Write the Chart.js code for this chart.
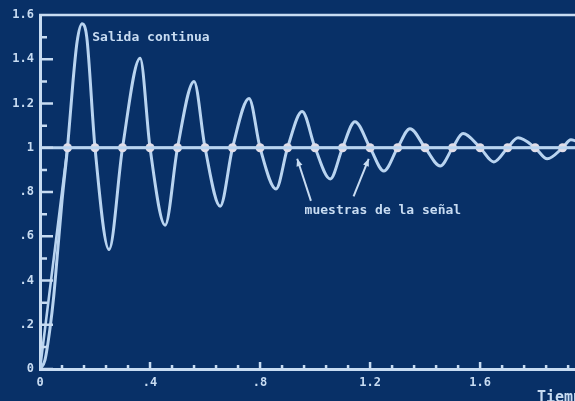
<!DOCTYPE html>
<html>
<head>
<meta charset="utf-8">
<script src="https://cdn.jsdelivr.net/npm/chart.js@4/dist/chart.umd.min.js"></script>
<style>
  html, body { margin: 0; padding: 0; background: #083067; overflow: hidden; }
  #wrap { width: 575px; height: 401px; position: relative; }
</style>
</head>
<body>
<div id="wrap"><canvas id="plot"></canvas></div>
<script>
// continuous output (crossings, peaks, troughs)
const curveT = [0, 0.018, 0.036, 0.05, 0.062, 0.08, 0.1, 0.12, 0.135, 0.153, 0.17, 0.2,
  0.251, 0.3, 0.364, 0.4, 0.455, 0.5, 0.56, 0.6, 0.655, 0.7, 0.76, 0.8, 0.858, 0.9,
  0.953, 1.0, 1.055, 1.1, 1.145, 1.2, 1.25, 1.3, 1.345, 1.4, 1.455, 1.5, 1.538, 1.6,
  1.65, 1.7, 1.738, 1.8, 1.844, 1.9, 1.93, 1.98];
const curveY = [0, 0.04, 0.18, 0.33, 0.5, 0.76, 1, 1.3, 1.48, 1.56, 1.5, 1,
  0.54, 1, 1.405, 1, 0.65, 1, 1.3, 1, 0.736, 1, 1.223, 1, 0.814, 1,
  1.164, 1, 0.859, 1, 1.118, 1, 0.895, 1, 1.086, 1, 0.918, 1, 1.064, 1,
  0.936, 1, 1.045, 1, 0.95, 1, 1.036, 1.01];

// samples of the signal
const sampleT = [0, 0.1, 0.2, 0.3, 0.4, 0.5, 0.6, 0.7, 0.8, 0.9, 1.0, 1.1, 1.2, 1.3,
  1.4, 1.5, 1.6, 1.7, 1.8, 1.9, 2.0];
const sampleY = [0, 1, 1, 1, 1, 1, 1, 1, 1, 1, 1, 1, 1, 1, 1, 1, 1, 1, 1, 1, 1];

// steady-state line
const refT = [0, 2.0];
const refY = [1, 1];

const xTickValues = [0, 0.4, 0.8, 1.2, 1.6];
const xTickLabels = ['0', '.4', '.8', '1.2', '1.6'];
const yTickValues = [0, 0.2, 0.4, 0.6, 0.8, 1, 1.2, 1.4, 1.6];
const yTickLabels = ['0', '.2', '.4', '.6', '.8', '1', '1.2', '1.4', '1.6'];

const curveLabel = 'Salida continua';
const sampleLabel = 'muestras de la señal';
const xTitle = 'Tiempo';

const ink = 'rgb(200, 220, 242)';
const lineCol = 'rgb(185, 212, 240)';
const dotCol = 'rgb(226, 222, 232)';
const monoBold = 'bold 13px "DejaVu Sans Mono", monospace';

const pts = (xs, ys) => xs.map((x, i) => ({ x: x, y: ys[i] }));

function arrow(ctx, x1, y1, x2, y2) {
  const a = Math.atan2(y2 - y1, x2 - x1);
  ctx.beginPath();
  ctx.moveTo(x1, y1);
  ctx.lineTo(x2, y2);
  ctx.stroke();
  ctx.beginPath();
  ctx.moveTo(x2, y2);
  ctx.lineTo(x2 - 8 * Math.cos(a - 0.4), y2 - 8 * Math.sin(a - 0.4));
  ctx.lineTo(x2 - 8 * Math.cos(a + 0.4), y2 - 8 * Math.sin(a + 0.4));
  ctx.closePath();
  ctx.fill();
}

// ticks inside the axes, top frame, notes and arrows
const decor = {
  id: 'decor',
  afterDraw(chart) {
    const ctx = chart.ctx;
    const xs = chart.scales.x, ys = chart.scales.y;
    const area = chart.chartArea;
    ctx.save();
    ctx.strokeStyle = ink;
    ctx.fillStyle = ink;
    ctx.lineWidth = 2.5;
    ctx.beginPath();
    for (let v = 0; v <= 1.61; v += 0.1) {
      const py = ys.getPixelForValue(v);
      const major = Math.round(v * 10) % 2 === 0;
      ctx.moveTo(area.left, py);
      ctx.lineTo(area.left + (major ? 13 : 7), py);
    }
    for (let v = 0.08; v <= 1.95; v += 0.08) {
      const px = xs.getPixelForValue(v);
      const major = Math.round(v / 0.08) % 5 === 0;
      ctx.moveTo(px, area.bottom);
      ctx.lineTo(px, area.bottom - (major ? 7 : 4));
    }
    ctx.moveTo(area.left - 1, area.top);
    ctx.lineTo(area.right, area.top);
    ctx.stroke();

    ctx.font = monoBold;
    ctx.textBaseline = 'middle';
    ctx.textAlign = 'left';
    ctx.fillText(curveLabel, xs.getPixelForValue(0.19), ys.getPixelForValue(1.5));
    ctx.fillText(sampleLabel, xs.getPixelForValue(0.962), ys.getPixelForValue(0.715));
    ctx.font = 'bold 15px "DejaVu Sans Mono", monospace';
    ctx.textBaseline = 'top';
    ctx.fillText(xTitle, 537, 391);

    ctx.lineWidth = 2;
    arrow(ctx, xs.getPixelForValue(0.985), ys.getPixelForValue(0.76),
      xs.getPixelForValue(0.935), ys.getPixelForValue(0.95));
    arrow(ctx, xs.getPixelForValue(1.14), ys.getPixelForValue(0.78),
      xs.getPixelForValue(1.195), ys.getPixelForValue(0.95));
    ctx.restore();
  }
};

new Chart(document.getElementById('plot'), {
  type: 'line',
  data: {
    datasets: [
      {
        data: pts(refT, refY),
        borderColor: lineCol,
        borderWidth: 3,
        pointRadius: 0
      },
      {
        data: pts(sampleT, sampleY),
        borderColor: lineCol,
        borderWidth: 2.6,
        pointRadius: c => (c.dataIndex === 0 || c.raw.x > 1.95) ? 0 : 4.5,
        pointBackgroundColor: dotCol,
        pointBorderWidth: 0
      },
      {
        data: pts(curveT, curveY),
        borderColor: lineCol,
        borderWidth: 3,
        pointRadius: 0,
        cubicInterpolationMode: 'monotone'
      }
    ]
  },
  options: {
    responsive: true,
    maintainAspectRatio: false,
    animation: false,
    layout: { padding: { top: 15, right: 0, left: 0, bottom: 0 } },
    plugins: { legend: { display: false }, tooltip: { enabled: false } },
    scales: {
      x: {
        type: 'linear',
        min: 0,
        max: 1.945,
        afterBuildTicks: s => { s.ticks = xTickValues.map(v => ({ value: v })); },
        afterFit: s => { s.height = 32; },
        grid: { display: false, drawTicks: false },
        border: { display: true, color: ink, width: 3 },
        ticks: {
          color: ink,
          padding: 7,
          maxRotation: 0,
          autoSkip: false,
          font: { family: '"DejaVu Sans Mono", monospace', size: 12, weight: 'bold' },
          callback: v => xTickLabels[xTickValues.findIndex(t => Math.abs(t - v) < 1e-6)]
        }
      },
      y: {
        min: 0,
        max: 1.6,
        afterBuildTicks: s => { s.ticks = yTickValues.map(v => ({ value: v })); },
        afterFit: s => { s.width = 40; },
        grid: { display: false, drawTicks: false },
        border: { display: true, color: ink, width: 3 },
        ticks: {
          color: ink,
          padding: 6,
          autoSkip: false,
          font: { family: '"DejaVu Sans Mono", monospace', size: 12, weight: 'bold' },
          callback: v => yTickLabels[yTickValues.findIndex(t => Math.abs(t - v) < 1e-6)]
        }
      }
    }
  },
  plugins: [decor]
});
</script>
</body>
</html>
